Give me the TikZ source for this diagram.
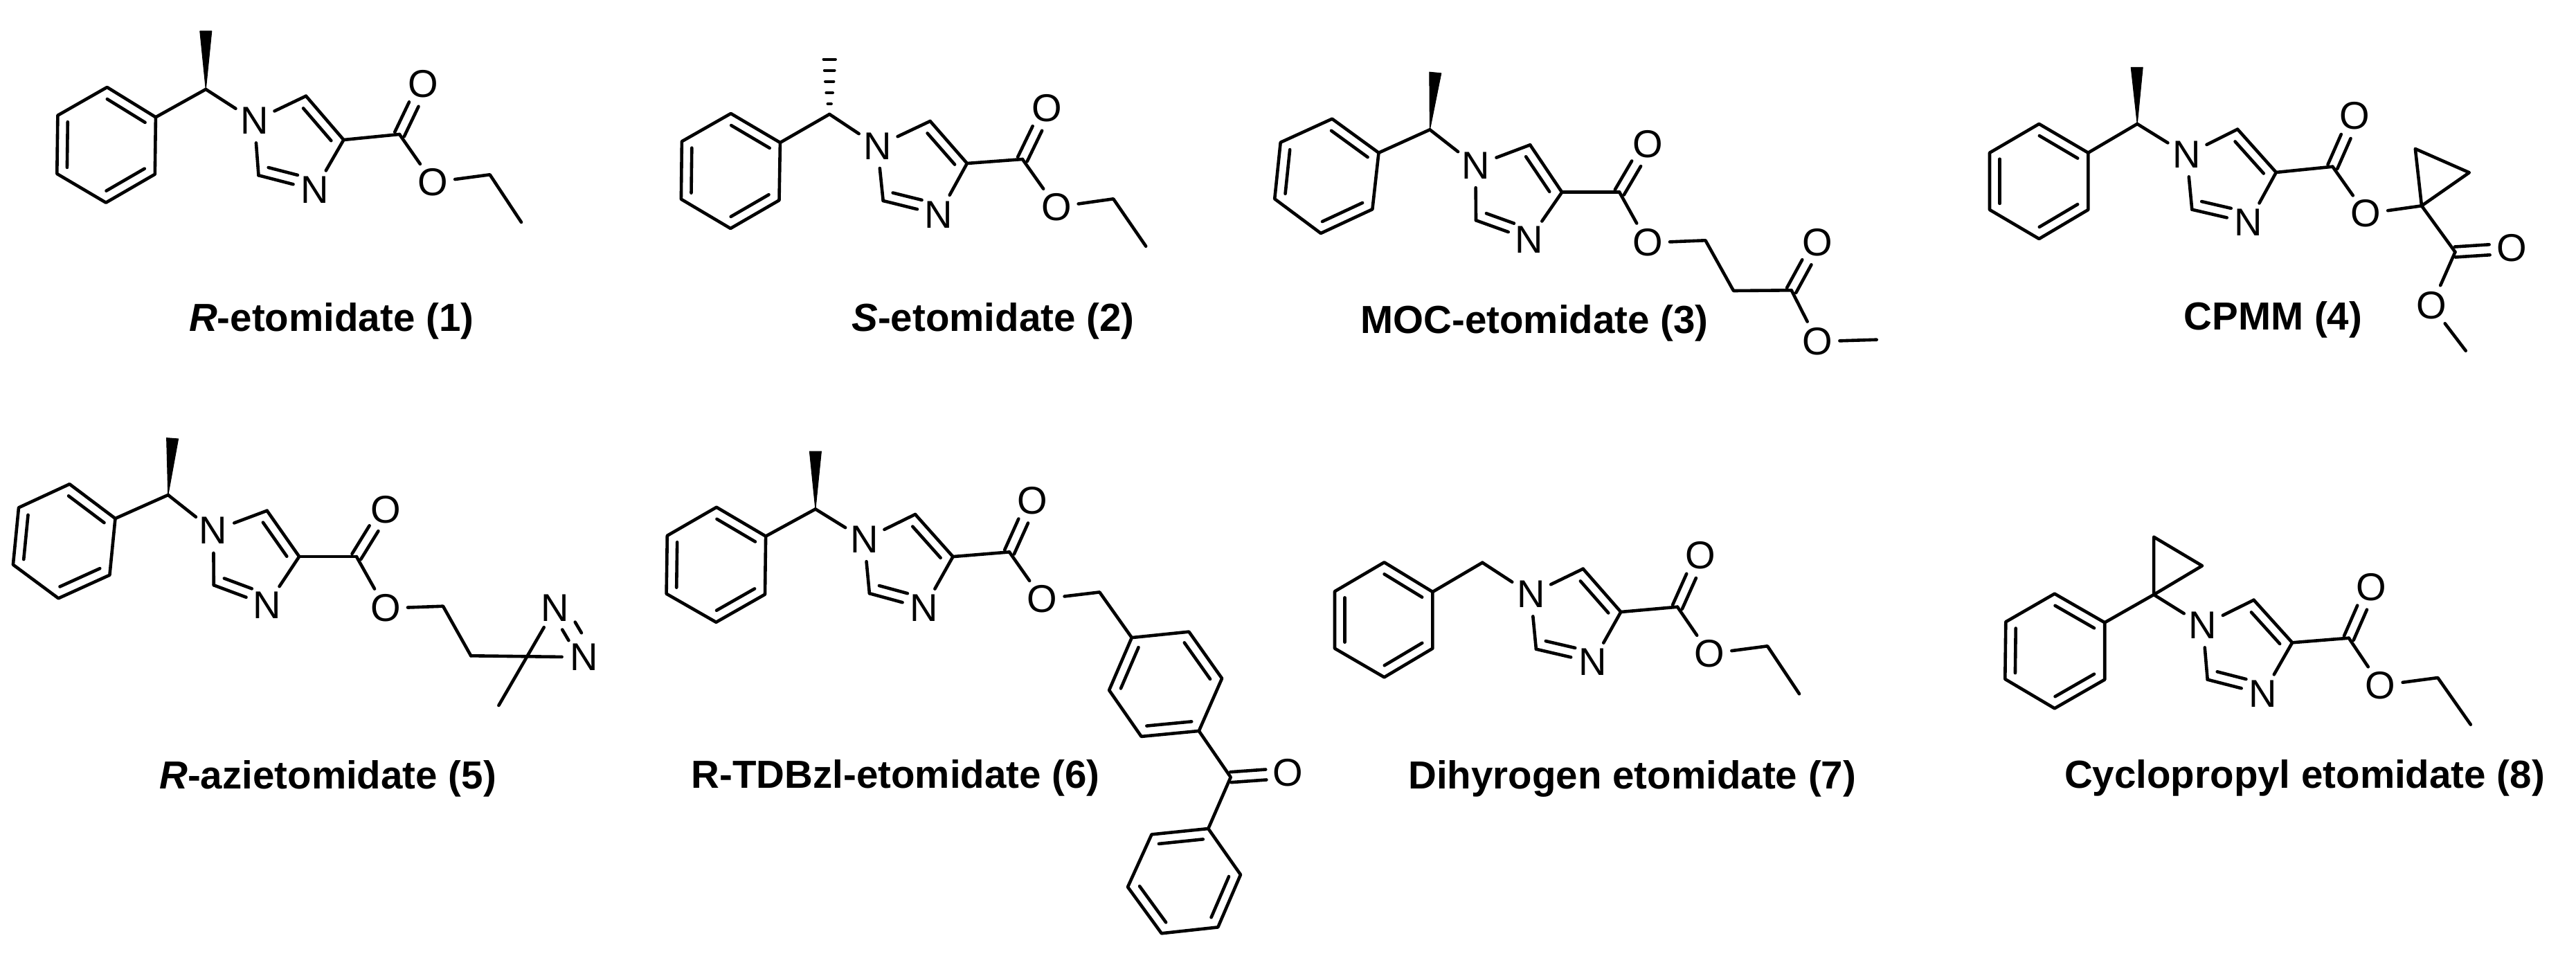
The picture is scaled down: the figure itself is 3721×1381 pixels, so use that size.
\documentclass[tikz,border=0pt]{standalone}
\usepackage{fontspec}
\setmainfont{Liberation Sans}
\usetikzlibrary{calc}
\tikzset{
  bond/.style={draw=black,line width=4.6pt,line cap=round,line join=round},
  atom/.style={circle,inner sep=0pt,minimum size=64pt,font=\fontsize{56}{60}\selectfont},
  lab/.style={anchor=base,inner sep=0pt,font=\fontsize{56.5}{60}\selectfont\bfseries}
}
% inner line of a double bond: from, to, side angle, shortening at each end
\newcommand\dbl[5]{\draw[bond] ($(#1)!#4!(#2)!14.5pt!#3:(#2)$) -- ($(#2)!#5!(#1)!14.5pt!-#3:(#1)$);}
% symmetric double bond from a carbon to a labelled atom
\newcommand\dco[2]{%
  \draw[bond] ($(#1)!7.5pt!90:(#2)$) -- ($(#2)!32pt!(#1)!7.5pt!-90:(#1)$);
  \draw[bond] ($(#1)!7.5pt!-90:(#2)$) -- ($(#2)!32pt!(#1)!7.5pt!90:(#1)$);}
\newcommand\atomsC[1]{\foreach \na/\xa/\ya in {#1} {\coordinate (\na) at (\xa,\ya);}}
\newcommand\atomsX[1]{\foreach \na/\xa/\ya/\ta in {#1} {\node[atom] (\na) at (\xa,\ya) {\ta};}}
% the shared phenyl and imidazole carboxylate
\newcommand\core{%
  \draw[bond] (p1)--(p2)--(p3)--(p4)--(p5)--(p6)--cycle;
  \dbl{p1}{p2}{-90}{.11}{.11}
  \dbl{p3}{p4}{-90}{.11}{.11}
  \dbl{p5}{p6}{-90}{.11}{.11}
  \draw[bond] (p2)--(c);
  \draw[bond] (c)--(n1);
  \draw[bond] (n1)--(c5);
  \draw[bond] (c5)--(c4);
  \dbl{c5}{c4}{-90}{.13}{.13}
  \draw[bond] (c4)--(n3);
  \draw[bond] (n3)--(c2);
  \dbl{c2}{n3}{90}{.13}{.35}
  \draw[bond] (c2)--(n1);
  \draw[bond] (c4)--(co);
  \dco{co}{o1}
  \draw[bond] (co)--(o2);}
\newcommand\wedgebond[2]{\fill[black,draw=black,line width=1pt,line join=round] (#1) -- ($(#2)!8.5pt!90:(#1)$) -- ($(#2)!8.5pt!-90:(#1)$) -- cycle;}
\begin{document}
\begin{tikzpicture}[x=1pt,y=-1pt]
\useasboundingbox (0,0) rectangle (3721,1381);

% 1
\begin{scope}[name prefix=a-]
\atomsC{c/297.3/129,t/297.3/45,p1/154.7/126,p2/224.9/169.3,p3/223.8/251.7,p4/153/292.7,p5/82.3/251,p6/83.4/166.7,c5/442/138.7,c4/496.4/202,c2/373.5/253.3,co/577/194,e1/707.6/252.3,e2/753/321}
\atomsX{n1/367.5/174.3/N,n3/454.7/274.3/N,o1/611.6/121.7/O,o2/625.3/263.3/O}
\core
\wedgebond{c}{t}
\draw[bond] (o2)--(e1)--(e2);
\node[lab] (l) at (478.7,478.3) {\textit{R}-etomidate (1)};
\end{scope}

% 2
\begin{scope}[name prefix=b-]
\atomsC{c/1198.2/165,p1/1055.7/164,p2/1126.9/206,p3/1125.5/289.3,p4/1055.2/330,p5/983.9/287.7,p6/984.9/204.3,c5/1343.6/175,c4/1396.9/236,c2/1275.7/290,co/1476.9/230,e1/1608.2/287.3,e2/1655.2/355.7}
\atomsX{n1/1267.5/211/N,n3/1356.2/310/N,o1/1512.3/156.7/O,o2/1525.8/299/O}
\core
\foreach \ya/\wa in {85.7/8.5,101.7/7.2,117.7/6,134/4.6,150/2.5}
  \draw[black,line width=4.4pt,line cap=round] (1198.2-\wa,\ya) -- (1198.2+\wa,\ya);
\draw[bond] (o2)--(e1)--(e2);
\node[lab] (l) at (1434.5,478) {\textit{S}-etomidate (2)};
\end{scope}

% 3
\begin{scope}[name prefix=c-]
\atomsC{c/2065.4/187.3,t/2073.3/105,p1/1924.2/171.7,p2/1991.5/220.7,p3/1982.4/302.3,p4/1907.9/337,p5/1841.2/287.3,p6/1849.7/205.7,c5/2210.2/209.3,c4/2256.2/277.7,c2/2132/318.3,co/2339.3/277.7,m1/2463.5/347.3,m2/2504/420,m3/2587.7/419.3,me/2710.7/490.7}
\atomsX{n1/2131.4/239/N,n3/2209/346/N,o1/2379.8/208.7/O,o2/2379.8/350.7/O,o3/2625.2/350.7/O,o4/2625.2/493.3/O}
\core
\wedgebond{c}{t}
\draw[bond] (o2)--(m1)--(m2)--(m3);
\dco{m3}{o3}
\draw[bond] (m3)--(o4);
\draw[bond] (o4)--(me);
\node[lab] (l) at (2216.5,481.7) {MOC-etomidate (3)};
\end{scope}

% 4
\begin{scope}[name prefix=d-]
\atomsC{c/3087.2/179,t/3086.7/97.3,p1/2945.4/179,p2/3016.3/220.7,p3/3016.3/303,p4/2945.4/345,p5/2874/303,p6/2874/220.7,c5/3232.1/186.7,c4/3287.8/249,c2/3166.3/302.7,co/3369.4/240.7,q/3498/297.3,r1/3488.8/215,r2/3566.8/249.3,m3/3546.4/364,me/3561.7/506.7}
\atomsX{n1/3158.7/223.3/N,n3/3248/321.7/N,o1/3401.5/167.7/O,o2/3417.3/308.7/O,o3/3628/358.7/O,o4/3512.2/441.7/O}
\core
\wedgebond{c}{t}
\draw[bond] (o2)--(q);
\draw[bond] (q)--(r1)--(r2)--cycle;
\draw[bond] (q)--(m3);
\dco{m3}{o3}
\draw[bond] (m3)--(o4);
\draw[bond] (o4)--(me);
\node[lab] (l) at (3283.5,476.7) {CPMM (4)};
\end{scope}

% 5
\begin{scope}[name prefix=e-]
\atomsC{c/242.8/715,t/249.1/633.3,p1/100.5/699.3,p2/166.5/749,p3/158.4/830.7,p4/84.4/864.3,p5/18.9/815.7,p6/27/733.3,c5/385.7/737.7,c4/432.2/804,c2/308.8/845.3,co/514.9/804,m1/640/875.7,m2/680.2/947.3,me/720.4/1019}
\atomsX{n1/308.2/766.7/N,n3/385.7/874/N,o1/556.8/736/O,o2/556.8/878.7/O,na/801.9/878.3/N,nb/843.8/949.3/N}
\core
\wedgebond{c}{t}
\draw[bond] (o2)--(m1)--(m2);
\draw[bond] (m2)--(nb);
\draw[bond] (me)--(na);
\dbl{na}{nb}{90}{.39}{.39}
\draw[bond] ($(na)!.39!(nb)!7pt!-90:(nb)$) -- ($(nb)!.39!(na)!7pt!90:(na)$);
\node[lab] (l) at (473.6,1139.3) {\textit{R}-azietomidate (5)};
\end{scope}

% 6
\begin{scope}[name prefix=f-]
\atomsC{c/1177.9/735.4,t/1177.9/652,p1/1035/732.7,p2/1106.1/774.6,p3/1105/858.6,p4/1034.4/898.8,p5/962.6/857.7,p6/963.8/773.8,c5/1322/743,c4/1376.5/804.1,c2/1255.9/857.2,co/1458/797.4,m1/1588.3/855.4,r1/1634.8/921.1,r2/1717.4/912.6,r3/1765.1/980,r4/1731.8/1055.9,r5/1648.6/1063.9,r6/1602.1/997,k/1777.7/1122.7,q1/1745.3/1197,q2/1663.5/1205.4,q3/1629/1281.3,q4/1677.8/1348.3,q5/1759.3/1339.4,q6/1792/1263.5}
\atomsX{n1/1248.5/779.1/N,n3/1334.6/878.7/N,o1/1491.3/723.3/O,o2/1505.6/865.3/O,o3/1860.7/1116.7/O}
\core
\wedgebond{c}{t}
\draw[bond] (o2)--(m1)--(r1);
\draw[bond] (r1)--(r2)--(r3)--(r4)--(r5)--(r6)--cycle;
\dbl{r2}{r3}{-90}{.11}{.11}
\dbl{r4}{r5}{-90}{.11}{.11}
\dbl{r6}{r1}{-90}{.11}{.11}
\draw[bond] (r4)--(k)--(q1);
\dco{k}{o3}
\draw[bond] (q1)--(q2)--(q3)--(q4)--(q5)--(q6)--cycle;
\dbl{q1}{q2}{90}{.11}{.11}
\dbl{q3}{q4}{90}{.11}{.11}
\dbl{q5}{q6}{90}{.11}{.11}
\node[lab] (l) at (1293.8,1138.9) {R-TDBzl-etomidate (6)};
\end{scope}

% 7
\begin{scope}[name prefix=g-]
\atomsC{c/2141.3/812.7,p1/1999.5/812.3,p2/2069.4/855,p3/2069.4/936.7,p4/1999.5/978.3,p5/1928/936.7,p6/1928/854.3,c5/2286.7/821.7,c4/2341.3/884,c2/2218.9/937.7,co/2423/876.7,e1/2553/933.3,e2/2599/1002.3}
\atomsX{n1/2211.2/858.3/N,n3/2300.5/956.7/N,o1/2456.1/802.7/O,o2/2469.4/944.3/O}
\core
\draw[bond] (o2)--(e1)--(e2);
\node[lab] (l) at (2357.8,1139) {Dihyrogen etomidate (7)};
\end{scope}

% 8
\begin{scope}[name prefix=h-]
\atomsC{c/3111.1/859,r1/3111.1/775.7,r2/3181/817.3,p1/2967.8/857.7,p2/3040.2/899.3,p3/3040.2/981.7,p4/2967.8/1023.3,p5/2896.3/981,p6/2897.3/898.3,c5/3255.5/866.7,c4/3311.1/928.3,c2/3188.7/981.7,co/3392.8/921.7,e1/3521.3/979,e2/3568.8/1046.7}
\atomsX{n1/3182/903.3/N,n3/3268.8/1002.3/N,o1/3424.9/848.3/O,o2/3438.7/990/O}
\core
\draw[bond] (c)--(r1)--(r2)--cycle;
\draw[bond] (o2)--(e1)--(e2);
\node[lab] (l) at (3329,1138.3) {Cyclopropyl etomidate (8)};
\end{scope}
\end{tikzpicture}
\end{document}
